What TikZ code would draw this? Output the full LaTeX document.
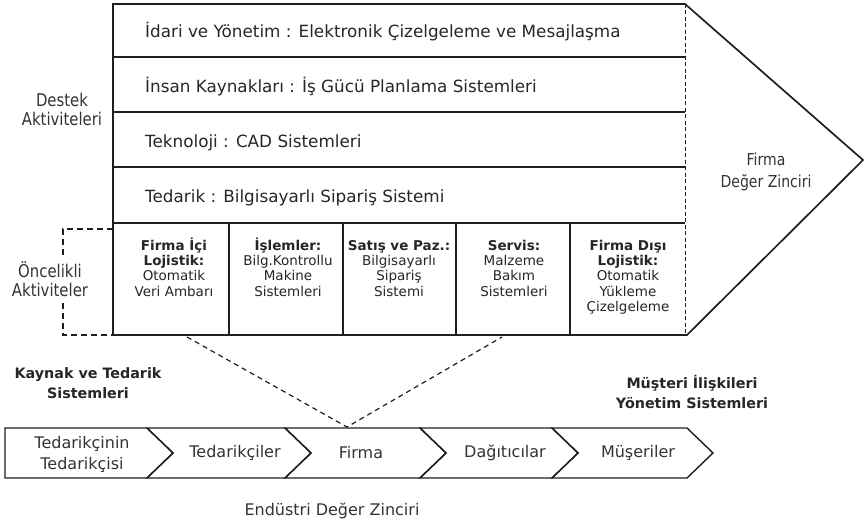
\documentclass[tikz,border=0pt]{standalone}
\usepackage{fontspec}
\setmainfont{DejaVu Sans}
\newfontfamily\labelfont[FakeStretch=0.85]{DejaVu Sans}
\begin{document}
\begin{tikzpicture}[x=1pt,y=-1pt,
  ink/.style={draw=black!88},
  frame/.style={ink, line width=1.7pt, line join=miter},
  divider/.style={ink, line width=1.4pt},
  edgedash/.style={ink, line width=1pt, dash pattern=on 4pt off 2.5pt},
  bracketdash/.style={ink, line width=1.3pt, dash pattern=on 6pt off 4pt},
  linkdash/.style={ink, line width=1.2pt, dash pattern=on 5pt off 4pt},
  chevron/.style={ink, line width=1.4pt, line join=miter},
  rowtext/.style={anchor=base west, inner sep=0pt, text=black!85, font=\fontsize{16.8}{19}\selectfont},
  celltext/.style={anchor=north, align=center, inner sep=0pt, text=black!85, font=\fontsize{13.5}{15.3}\selectfont},
  sidetext/.style={align=center, inner sep=0pt, text=black!80, font=\labelfont\fontsize{17.5}{19}\selectfont},
  boldtext/.style={align=center, inner sep=0pt, text=black!85, font=\bfseries\fontsize{14.3}{20}\selectfont},
  chaintext/.style={align=center, inner sep=0pt, text=black!80, font=\fontsize{16}{21}\selectfont}
]
\useasboundingbox (0,0) rectangle (864,521);
\newcommand{\firstline}{\rule{0pt}{13pt}}

% firm value chain: arrow outline
\draw[frame] (113,4) -- (685,4) -- (863,160) -- (687,335) -- (113,335) -- cycle;
\draw[edgedash] (685,4) -- (685,335);

% support activity rows
\draw[divider] (113,57) -- (685,57);
\draw[divider] (113,112) -- (685,112);
\draw[divider] (113,167) -- (685,167);
\draw[divider] (113,223) -- (685,223);

\node[rowtext] (s1) at (145,38) {İdari ve Yönetim : Elektronik Çizelgeleme ve Mesajlaşma};
\node[rowtext] (s2) at (145,93) {İnsan Kaynakları : İş Gücü Planlama Sistemleri};
\node[rowtext] (s3) at (145,148) {Teknoloji : CAD Sistemleri};
\node[rowtext] (s4) at (145,203) {Tedarik : Bilgisayarlı Sipariş Sistemi};

% primary activity columns
\foreach \x in {229,343,456,570} \draw[divider] (\x,223) -- (\x,335);

\node[celltext] (p1) at (174,237) {\firstline\textbf{Firma İçi}\\\textbf{Lojistik:}\\Otomatik\\Veri Ambarı};
\node[celltext] (p2) at (288,237) {\firstline\textbf{İşlemler:}\\Bilg.Kontrollu\\Makine\\Sistemleri};
\node[celltext] (p3) at (399,237) {\firstline\textbf{Satış ve Paz.:}\\Bilgisayarlı\\Sipariş\\Sistemi};
\node[celltext] (p4) at (514,237) {\firstline\textbf{Servis:}\\Malzeme\\Bakım\\Sistemleri};
\node[celltext] (p5) at (628,237) {\firstline\textbf{Firma Dışı}\\\textbf{Lojistik:}\\Otomatik\\Yükleme\\Çizelgeleme};

% side labels
\node[sidetext] (destek) at (62,109) {Destek\\Aktiviteleri};
\node[sidetext] (oncelik) at (50,279) {Öncelikli\\Aktiviteler};
\node[sidetext, font=\labelfont\fontsize{16.5}{22.5}\selectfont] (firmavc) at (766,172) {Firma\\Değer Zinciri};

% bracket around the primary activities label
\coordinate (bt) at (63,229);
\coordinate (bb) at (63,335);
\draw[bracketdash] (113,229) -- (bt) -- (63,256);
\draw[bracketdash] (63,303) -- (bb) -- (113,335);

% industry value chain
\def\ytop{428}\def\ybot{478}\def\ymid{453}\def\tip{26}
\draw[chevron] (5,\ytop) -- (147,\ytop) -- (147+\tip,\ymid) -- (147,\ybot) -- (5,\ybot) -- cycle;
\foreach \xl/\xr in {147/285,285/420,420/552,552/687}
  \draw[chevron] (\xl,\ytop) -- (\xr,\ytop) -- (\xr+\tip,\ymid) -- (\xr,\ybot) -- (\xl,\ybot) -- (\xl+\tip,\ymid) -- cycle;

\node[chaintext] (ch1) at (82,454) {Tedarikçinin\\Tedarikçisi};
\node[chaintext] (ch2) at (235,453) {Tedarikçiler};
\node[chaintext] (ch3) at (361,453) {Firma};
\node[chaintext] (ch4) at (505,453) {Dağıtıcılar};
\node[chaintext] (ch5) at (638,453) {Müşeriler};

% link from the firm value chain down to the firm in the industry chain
\coordinate (vl) at (187,337);
\coordinate (vr) at (502,337);
\coordinate (apex) at (347,427);
\draw[linkdash] (vl) -- (apex) -- (vr);

\node[boldtext] (kaynak) at (88,383) {Kaynak ve Tedarik\\Sistemleri};
\node[boldtext] (musteri) at (692,392) {Müşteri İlişkileri\\Yönetim Sistemleri};
\node[sidetext, font=\fontsize{16}{18}\selectfont] (endustri) at (332,511) {Endüstri Değer Zinciri};
\end{tikzpicture}
\end{document}
